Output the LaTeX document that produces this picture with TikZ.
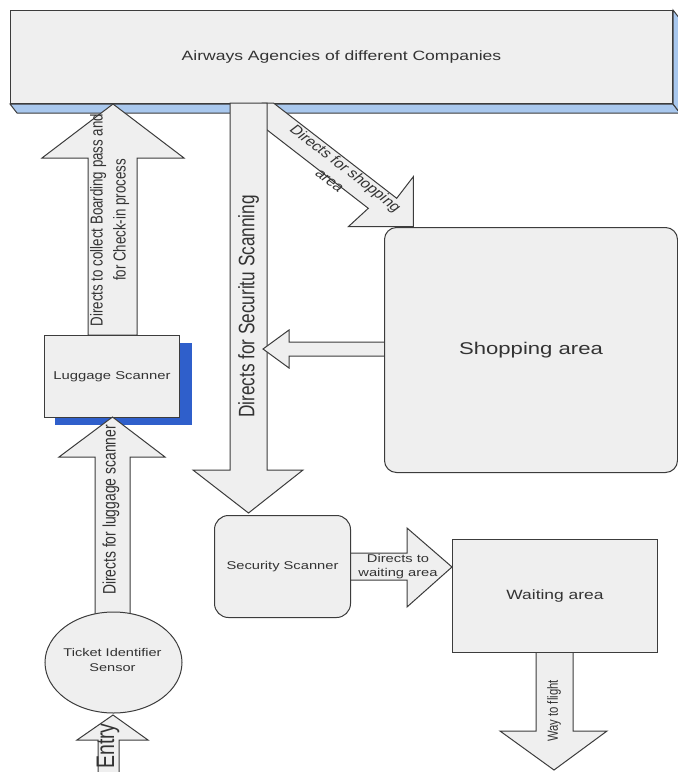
\documentclass[tikz,border=0pt]{standalone}
\usepackage{fontspec}
\setmainfont{Liberation Sans}
\usepackage{graphicx}
\usetikzlibrary{shapes.geometric}
\definecolor{boxfill}{HTML}{EFEFEF}
\definecolor{edge}{HTML}{3C3C3C}
\definecolor{txt}{HTML}{333333}
\definecolor{lightblue}{HTML}{A9C8EE}
\definecolor{deepblue}{HTML}{2F5FCB}
\newcommand{\strtxt}[2]{\scalebox{1.3}[1]{\rotatebox{#1}{#2}}}
\tikzset{
  blk/.style={fill=boxfill, draw=edge, line width=1pt, line join=miter, text=txt, inner sep=0pt},
  lbl/.style={text=txt, inner sep=0pt},
}
\begin{document}
\begin{tikzpicture}[x=1pt,y=-1pt]
\useasboundingbox (0,0) rectangle (678,772);
\fill[white] (0,0) rectangle (678,772);

% top bar (3D)
\node[blk, rectangle, minimum width=662pt, minimum height=93pt, anchor=north west,
      font={\fontsize{13.5}{16}\selectfont}] (bar) at (10,10)
      {\strtxt{0}{Airways Agencies of different Companies}};
\filldraw[fill=lightblue, draw=edge, line width=1pt] (bar.south west) -- (bar.south east) -- ++(7,9) -- ([shift={(7,9)}]bar.south west) -- cycle;
\filldraw[fill=lightblue, draw=edge, line width=1pt] (bar.north east) -- ++(7,9) -- ([shift={(7,9)}]bar.south east) -- (bar.south east) -- cycle;

% diagonal arrow to shopping
\filldraw[blk] (262,103) -- (273.5,103) -- (396.7,198.3) -- (413.3,176.7) -- (413.3,226.7) -- (348.3,226.7) -- (368.3,208.3) -- (262,126) -- cycle;
% security down arrow
\filldraw[blk] (230,103) -- (267,103) -- (267,470) -- (303,470) -- (248.5,513) -- (193,470) -- (230,470) -- cycle;
% boarding up arrow
\filldraw[blk] (88,335) -- (88,158) -- (42,158) -- (113,104) -- (184,158) -- (137,158) -- (137,335) -- cycle;

% luggage scanner
\fill[deepblue] (55,343) rectangle (192,425);
\node[blk, rectangle, minimum width=135pt, minimum height=82pt, anchor=north west,
      font={\fontsize{11.4}{14}\selectfont}] (lug) at (44,335) {\strtxt{0}{Luggage Scanner}};

% luggage up arrow
\filldraw[blk] (95,620) -- (95,457) -- (59,457) -- (112.5,417) -- (165,457) -- (130,457) -- (130,620) -- cycle;

% ticket sensor
\node[blk, ellipse, minimum width=137pt, minimum height=101pt] (sensor) at (113.5,662.5) {};
\node[lbl, font={\fontsize{11.2}{15}\selectfont}] (sensort) at (112.5,660.5)
      {\strtxt{0}{\begin{tabular}{@{}c@{}}Ticket Identifier\\Sensor\end{tabular}}};

% entry arrow
\filldraw[blk] (98,776) -- (98,740) -- (77,740) -- (113,715) -- (148,740) -- (119,740) -- (119,776) -- cycle;

% shopping area
\filldraw[blk] (390,342) -- (289,342) -- (289,330) -- (263,349) -- (289,368) -- (289,356) -- (390,356) -- cycle;
\node[blk, rectangle, rounded corners=12pt, minimum width=293pt, minimum height=245pt, anchor=north west,
      font={\fontsize{17}{20}\selectfont}] (shop) at (384,227) {\strtxt{0}{Shopping area}};

% security scanner
\filldraw[blk] (345,553) -- (407,553) -- (407,528) -- (452,567) -- (407,607) -- (407,580) -- (345,580) -- cycle;
\node[blk, rectangle, rounded corners=14pt, minimum width=136pt, minimum height=102pt, anchor=north west,
      font={\fontsize{11.3}{14}\selectfont}] (sec) at (214,515) {\strtxt{0}{Security Scanner}};

% waiting area
\filldraw[blk] (536,645) -- (536,731) -- (500,731) -- (554,770) -- (607,731) -- (573,731) -- (573,645) -- cycle;
\node[blk, rectangle, minimum width=205pt, minimum height=113pt, anchor=north west,
      font={\fontsize{13.4}{16}\selectfont}] (wait) at (452,539) {\strtxt{0}{Waiting area}};

% arrow texts
\node[lbl, font={\fontsize{17.2}{20}\selectfont}] (tsec) at (248.5,306.5)
      {\strtxt{90}{Directs for Securitu Scanning}};
\node[lbl, font={\fontsize{13.3}{17.7}\selectfont}] (tboard) at (109.5,220)
      {\strtxt{90}{\begin{tabular}{@{}c@{}}Directs to collect Boarding pass and\\for Check-in process\end{tabular}}};
\node[lbl, font={\fontsize{13.9}{16}\selectfont}] (tlug) at (111,510)
      {\strtxt{90}{Directs for luggage scanner}};
\node[lbl, font={\fontsize{19.5}{22}\selectfont}] (tentry) at (108,746)
      {\strtxt{90}{Entry}};
\node[lbl, font={\fontsize{13}{17}\selectfont}] (tshop) at (337,175)
      {\strtxt{-45}{\begin{tabular}{@{}c@{}}Directs for shopping\\area\end{tabular}}};
\node[lbl, font={\fontsize{11.3}{14}\selectfont}] (twait) at (398,567)
      {\strtxt{0}{\begin{tabular}{@{}c@{}}Directs to\\waiting area\end{tabular}}};
\node[lbl, font={\fontsize{11.3}{14}\selectfont}] (tflight) at (554,711)
      {\strtxt{90}{Way to flight}};
\end{tikzpicture}
\end{document}
